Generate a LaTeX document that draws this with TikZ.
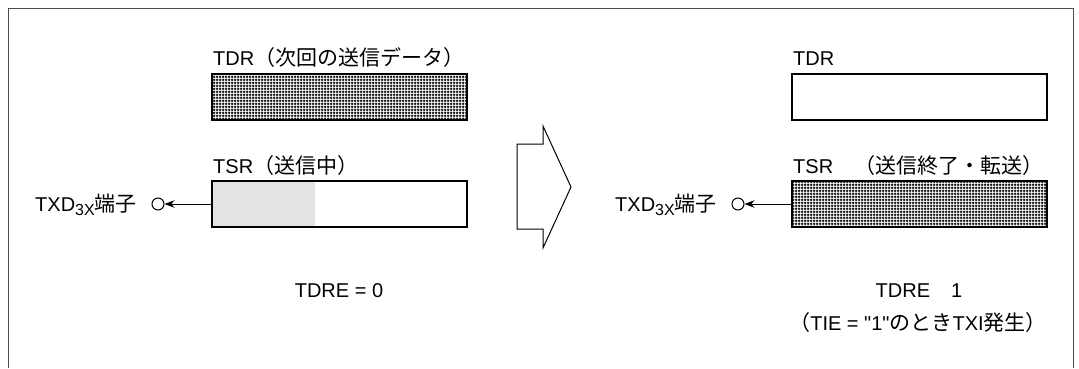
\documentclass[tikz,border=0pt]{standalone}
\usepackage{fontspec}
\setmainfont{Liberation Sans}
\newfontfamily\plainsans{Liberation Sans}
\newfontfamily\jp[Scale=1.05]{Noto Sans CJK JP}
\usetikzlibrary{arrows.meta,patterns}

\pgfdeclarepatternformonly{finegrid}{\pgfpointorigin}{\pgfqpoint{3pt}{3pt}}{\pgfqpoint{3pt}{3pt}}{
  \pgfsetlinewidth{1.2pt}
  \pgfpathmoveto{\pgfqpoint{0pt}{1.5pt}}\pgfpathlineto{\pgfqpoint{3pt}{1.5pt}}
  \pgfpathmoveto{\pgfqpoint{1.5pt}{0pt}}\pgfpathlineto{\pgfqpoint{1.5pt}{3pt}}
  \pgfusepath{stroke}
}

\tikzset{
  regbox/.style={draw, line width=2pt, minimum width=255pt, minimum height=46pt, inner sep=0pt},
  lbl/.style={inner sep=0pt, anchor=base west, font=\fontsize{20}{24}\selectfont},
  pinmark/.style={draw, circle, minimum size=12pt, inner sep=0pt, line width=1pt},
  outarrow/.style={line width=1pt, -{Stealth[length=10pt,width=7.5pt]}},
}
\newcommand{\txdpin}{TXD\raisebox{-4pt}{\fontsize{16}{16}\selectfont 3X}{\jp 端子}}

\begin{document}
\begin{tikzpicture}[x=1pt,y=-1pt]
\useasboundingbox (0,0) rectangle (1079,368);
\draw[black!70, line width=1pt] (8,368) -- (8,8) -- (1073,8) -- (1073,368);

% before
\node[regbox, pattern=finegrid] (tdrA) at (339.5,96.5) {};
\node[lbl] (tdrAlbl) at (213,65) {TDR{\jp（次回の送信データ）}};
\fill[black!11] (212,182) rectangle (315,226);
\node[regbox] (tsrA) at (339.5,204) {};
\node[lbl] (tsrAlbl) at (213,173) {TSR{\jp（送信中）}};
\node[pinmark] (pinA) at (158,204) {};
\node[lbl] (txdA) at (35,211) {\txdpin};
\draw[outarrow] (tsrA.west) -- (pinA.east);
\node[lbl, anchor=base] (tdreA) at (339,297) {TDRE = 0};

\draw[line width=1pt, line join=miter] (517,144) -- (543,144) -- (543,126) -- (571,187) -- (543,248) -- (543,229) -- (517,229) -- cycle;

% after
\node[regbox] (tdrB) at (919.5,96.5) {};
\node[lbl] (tdrBlbl) at (793,65) {TDR};
\node[regbox, pattern=finegrid] (tsrB) at (919.5,204) {};
\node[lbl] (tsrBlbl) at (793,173) {TSR{\jp　（送信終了・転送）}};
\node[pinmark] (pinB) at (738,204) {};
\node[lbl] (txdB) at (615,211) {\txdpin};
\draw[outarrow] (tsrB.west) -- (pinB.east);
\node[lbl, anchor=base] (tdreB) at (919,297) {TDRE{\jp　}1};
\node[lbl, anchor=base] (tieB) at (918,330) {{\jp（}TIE = {\plainsans"}1{\plainsans"}{\jp のとき}TXI{\jp 発生）}};
\end{tikzpicture}
\end{document}
